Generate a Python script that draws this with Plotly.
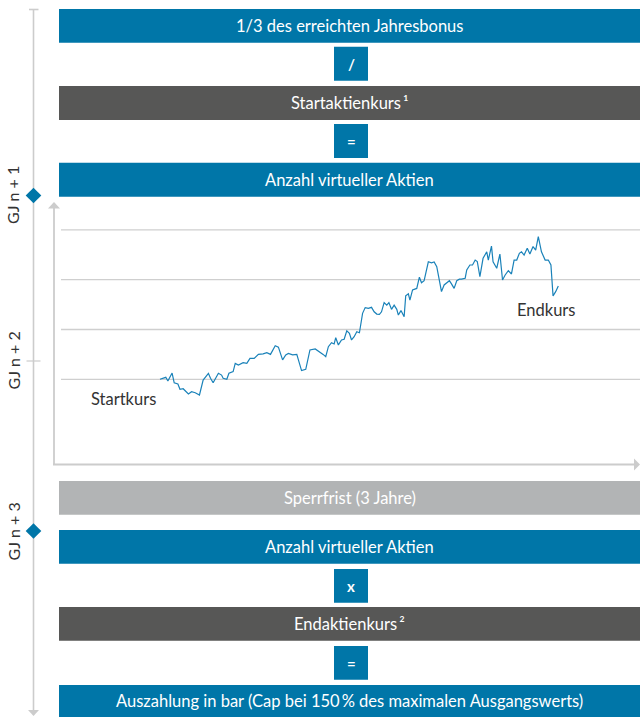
import plotly.graph_objects as go

W, H = 640, 717

# ---- data: stock price path (trading days since start, index value) ----
days = [0, 11, 15, 23, 27, 34, 38, 44, 54, 60, 67, 75, 82, 92, 96, 101, 111, 117, 120, 127,
        131, 139, 143, 149, 158, 165, 171, 179, 187, 196, 203, 210, 219, 225, 233, 239, 244, 252,
        260, 269, 277, 285, 295, 301, 304, 310, 315, 320, 326, 331, 334, 339, 345, 350, 355, 360,
        364, 369, 374, 379, 385, 390, 396, 402, 407, 412, 417, 421, 426, 431, 435, 440, 445, 450,
        453, 458, 464, 467, 472, 475, 480, 488, 493, 497, 502, 510, 516, 521, 526, 531, 535, 540,
        545, 550, 554, 559, 564, 569, 573, 580, 583, 589, 594, 599, 603, 608, 614, 621, 624, 630,
        633, 640, 646, 651, 656, 662, 668, 673, 678, 683, 687, 692, 698, 703, 709, 714, 719, 725,
        732, 738, 743, 747, 752, 757]
price = [100.0, 100.8, 99.3, 102.5, 98.6, 98.1, 96.0, 96.2, 94.1, 95.0, 94.6, 93.7, 99.7, 102.4,
         100.4, 98.6, 102.4, 101.7, 100.4, 100.0, 102.4, 103.1, 106.4, 105.7, 106.7, 106.4, 108.4,
         108.4, 110.0, 110.2, 110.7, 110.0, 113.5, 112.9, 107.8, 109.8, 110.4, 109.8, 110.0, 103.5,
         104.0, 111.8, 112.2, 111.4, 110.7, 110.0, 109.1, 113.1, 114.7, 114.2, 116.7, 113.8, 115.8,
         116.1, 119.5, 118.5, 115.8, 117.1, 119.1, 118.7, 126.5, 128.8, 128.5, 128.9, 127.1, 126.2,
         126.1, 127.1, 130.8, 129.8, 130.8, 128.1, 129.8, 128.1, 125.8, 127.6, 125.1, 133.5, 134.3,
         131.8, 135.9, 136.5, 141.0, 138.8, 139.6, 147.2, 146.8, 147.1, 145.2, 139.9, 135.2, 137.9,
         138.8, 139.6, 138.3, 136.5, 139.6, 140.2, 140.2, 140.6, 143.9, 145.9, 145.9, 147.9, 147.3,
         141.2, 148.6, 151.2, 147.9, 153.5, 147.2, 144.6, 150.3, 139.9, 141.9, 143.6, 142.3, 147.9,
         147.9, 150.6, 151.2, 149.9, 152.6, 150.3, 153.3, 151.9, 157.3, 151.2, 147.9, 147.9, 145.9,
         133.5, 135.2, 137.5]
grid_levels = [100, 120, 140, 160]

box_texts = ["1/3 des erreichten Jahresbonus", "/", "Startaktienkurs\u2009\u00b9", "=",
             "Anzahl virtueller Aktien", "Sperrfrist (3 Jahre)", "Anzahl virtueller Aktien",
             "x", "Endaktienkurs\u2009\u00b2", "=",
             "Auszahlung in bar (Cap bei 150\u2009% des maximalen Ausgangswerts)"]
year_labels = ["GJ n + 1", "GJ n + 2", "GJ n + 3"]
point_labels = ["Startkurs", "Endkurs"]

# ---- styles ----
FONT = "Lato"
FS = 16.5
BLUE = "#0076a8"
DARK = "#575756"
LIGHT = "#b2b4b5"
AXIS = "#cccccc"
GRID = "#cfcfcf"
LINE = "#1a82b9"
TXT = "#333333"


def px(x):
    return x / W


def py(y):
    return 1 - y / H


fig = go.Figure()
fig.add_trace(go.Scatter(x=days, y=price, mode="lines",
                         line=dict(color=LINE, width=1.2), hoverinfo="skip"))

shapes = []
ann = []

# box geometry (pixels): x0, y0, x1, y1, colour, operator-box
geom = [
    (59, 9, 640, 42.7, BLUE, False),
    (334, 46.7, 368, 80.7, BLUE, True),
    (59, 86, 640, 120, DARK, False),
    (334, 124, 368, 158, BLUE, True),
    (59, 162.7, 640, 196.7, BLUE, False),
    (59, 481, 640, 514.7, LIGHT, False),
    (59, 530, 640, 563.7, BLUE, False),
    (334, 569, 368, 602.7, BLUE, True),
    (59, 607, 640, 640.7, DARK, False),
    (334, 646, 368, 679.7, BLUE, True),
    (59, 685, 640, 717, BLUE, False),
]
for (x0, y0, x1, y1, col, op), txt in zip(geom, box_texts):
    shapes.append(dict(type="rect", xref="paper", yref="paper",
                       x0=px(x0), x1=px(x1), y0=py(y1), y1=py(y0),
                       fillcolor=col, line=dict(width=0), layer="below"))
    ann.append(dict(xref="paper", yref="paper", x=px((x0 + x1) / 2), y=py((y0 + y1) / 2),
                    text=("<b>%s</b>" % txt) if op else txt, showarrow=False,
                    xanchor="center", yanchor="middle",
                    font=dict(color="white", size=15 if op else FS, family=FONT)))

# timeline on the left
shapes.append(dict(type="line", xref="paper", yref="paper", x0=px(33.5), x1=px(33.5),
                   y0=py(9.5), y1=py(711), line=dict(color=AXIS, width=1.6)))
shapes.append(dict(type="line", xref="paper", yref="paper", x0=px(29), x1=px(38.5),
                   y0=py(9.5), y1=py(9.5), line=dict(color=AXIS, width=1.6)))
shapes.append(dict(type="line", xref="paper", yref="paper", x0=px(26.5), x1=px(40.5),
                   y0=py(361), y1=py(361), line=dict(color=AXIS, width=1.2)))


def tri(pts, col):
    path = "M " + " L ".join("%f,%f" % (px(a), py(b)) for a, b in pts) + " Z"
    return dict(type="path", xref="paper", yref="paper", path=path,
                fillcolor=col, line=dict(width=0))


shapes.append(tri([(28, 710), (39, 710), (33.5, 716)], AXIS))
for cy in (195.5, 531):
    shapes.append(tri([(33.5, cy - 7.8), (41.3, cy), (33.5, cy + 7.8), (25.7, cy)], BLUE))

for lbl, cy in zip(year_labels, (195.5, 361, 532)):
    ann.append(dict(xref="paper", yref="paper", x=px(12.5), y=py(cy), text=lbl,
                    showarrow=False, textangle=-90, xanchor="center", yanchor="middle",
                    font=dict(color=TXT, size=16, family=FONT)))

# chart axes with arrows
shapes.append(dict(type="line", xref="paper", yref="paper", x0=px(54), x1=px(54),
                   y0=py(464.5), y1=py(207), line=dict(color=AXIS, width=1.8)))
shapes.append(dict(type="line", xref="paper", yref="paper", x0=px(53), x1=px(635),
                   y0=py(464.5), y1=py(464.5), line=dict(color=AXIS, width=1.8)))
shapes.append(tri([(48, 208.5), (60, 208.5), (54, 202)], AXIS))
shapes.append(tri([(634, 458.5), (634, 470.5), (640, 464.5)], AXIS))

# gridlines
for lv in grid_levels:
    shapes.append(dict(type="line", xref="paper", yref="y", x0=px(61), x1=1,
                       y0=lv, y1=lv, line=dict(color=GRID, width=1.3), layer="below"))

ann.append(dict(xref="paper", yref="paper", x=px(123.5), y=py(399), text=point_labels[0],
                showarrow=False, xanchor="center", yanchor="middle",
                font=dict(color=TXT, size=FS, family=FONT)))
ann.append(dict(xref="paper", yref="paper", x=px(545.5), y=py(310), text=point_labels[1],
                showarrow=False, xanchor="center", yanchor="middle",
                font=dict(color=TXT, size=FS, family=FONT)))

s = (558.3 - 160) / 757.0
x_lo = (54 - 160) / s
x_hi = (637 - 160) / s
k = 20 / 49.8
y_lo = 100 + (379.3 - 464.5) * k
y_hi = 100 + (379.3 - 203) * k

fig.update_layout(
    width=W, height=H, margin=dict(l=0, r=0, t=0, b=0),
    paper_bgcolor="white", plot_bgcolor="rgba(0,0,0,0)",
    showlegend=False, shapes=shapes, annotations=ann,
    font=dict(family=FONT),
    xaxis=dict(domain=[px(54), px(637)], range=[x_lo, x_hi], visible=False, fixedrange=True),
    yaxis=dict(domain=[py(464.5), py(203)], range=[y_lo, y_hi], visible=False, fixedrange=True),
)

fig.write_html("out.html", config={"displayModeBar": False},
               post_script="document.body.style.margin='0';document.body.style.overflow='hidden';")
